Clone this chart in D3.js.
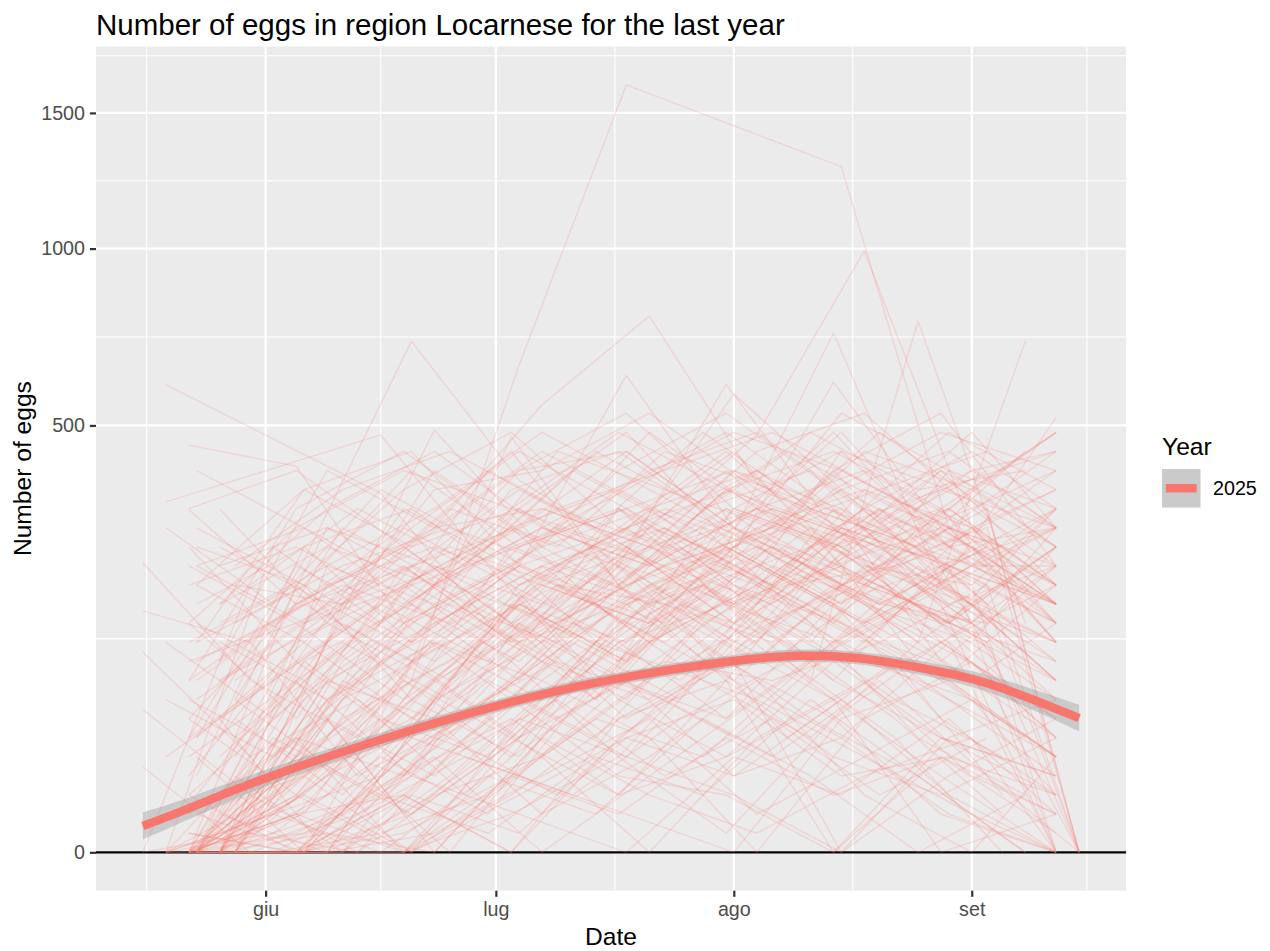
<!DOCTYPE html>
<html>
<head>
<meta charset="utf-8">
<script src="https://cdn.jsdelivr.net/npm/d3@7"></script>
<style>
  body { margin: 0; background: #ffffff; }
  svg { display: block; font-family: "Liberation Sans", Arial, sans-serif; }
</style>
</head>
<body>
<svg id="chart" width="1270" height="951"></svg>
<script>
// ---------------- DATA ----------------
const titleText = "Number of eggs in region Locarnese for the last year";
const xTitle = "Date";
const yTitle = "Number of eggs";
const legendTitle = "Year";
const legendLabels = ["2025"];

const monthTicks = ["2025-06-01", "2025-07-01", "2025-08-01", "2025-09-01"];
const monthLabels = ["giu", "lug", "ago", "set"];
const monthBounds = ["2025-05-01", "2025-10-01"];
const yTicks = [0, 500, 1000, 1500];
const yTickNext = 2000;

// trap groups: sampling dates and egg counts per trap (null = missing sample)
const datesG1 = ["2025-05-16","2025-05-30","2025-06-13","2025-06-27","2025-07-11","2025-07-25","2025-08-08","2025-08-22","2025-09-05"];
const valuesG1 = [
  [230,81,36,100,169,256,144,64,25],
  [160,121,16,49,144,81,196,225,100],
  [110,25,64,9,81,169,121,49,4],
  [56,9,0,36,121,64,256,144,81],
  [20,0,4,25,9,49,100,36,0],
  [0,1,0,16,64,144,36,100,9],
  [0,196,324,225,400,289,441,324,256]
];
const datesG2 = ["2025-05-19","2025-06-02","2025-06-16","2025-06-30","2025-07-14","2025-07-28","2025-08-11","2025-08-25","2025-09-08"];
const valuesG2 = [
  [600,null,354,144,64,196,100,225,121],
  [337,null,478,225,81,169,289,100,36],
  [0,9,49,25,121,196,81,774,144],
  [0,4,16,81,36,144,225,121,717],
  [64,25,100,169,64,289,144,36,9],
  [0,0,1,9,49,25,100,169,64],
  [25,81,169,100,256,121,49,16,0],
  [0,36,9,64,144,324,400,196,100],
  [121,49,144,256,169,81,36,121,225],
  [0,1,25,4,81,196,121,289,49],
  [0,0,9,1,25,9,64,16,0],
  [0,4,0,16,4,49,16,0,9],
  [289,169,361,256,441,324,484,361,400],
  [0,256,144,400,289,484,324,256,441]
];
const datesG3 = ["2025-05-22","2025-06-05","2025-06-19","2025-07-03","2025-07-17","2025-07-31","2025-08-14","2025-08-28","2025-09-12"];
const valuesG3 = [
  [455,409,144,225,100,196,81,36,16],
  [0,9,81,474,196,100,256,144,64],
  [4,36,16,100,225,601,289,121,49],
  [0,0,9,64,169,256,740,196,100],
  [81,169,256,144,324,225,606,289,169],
  [0,4,0,25,81,49,121,196,519],
  [36,100,196,289,144,256,169,100,225],
  [0,25,81,36,121,196,361,225,144],
  [144,49,225,121,256,169,225,400,196],
  [1,0,36,100,25,121,64,16,0],
  [0,100,36,169,289,225,144,81,196],
  [225,144,64,256,196,361,256,144,81],
  [0,0,0,9,49,100,196,121,49],
  [49,169,289,196,121,169,81,225,324],
  [9,64,144,64,196,81,256,324,144],
  [0,16,36,169,100,256,169,49,9],
  [121,196,81,25,144,225,400,196,121],
  [0,81,169,256,324,169,121,225,289],
  [49,9,100,196,64,144,289,169,0],
  [0,0,25,81,225,144,64,121,225],
  [196,256,169,324,256,400,225,289,169],
  [0,36,0,16,64,25,100,36,9],
  [100,144,225,121,196,324,196,144,256],
  [0,4,64,144,81,225,144,324,121],
  [16,121,196,289,225,121,324,100,36],
  [0,0,9,0,36,100,49,121,196],
  [64,25,144,225,361,256,169,225,100],
  [322,169,256,144,225,324,256,361,289],
  [0,1,16,49,9,81,0,25,4],
  [25,81,4,36,121,49,169,81,25],
  [0,0,1,16,4,36,9,25,1],
  [0,9,0,4,25,1,49,4,0],
  [1,0,25,64,16,9,0,36,16],
  [0,4,9,0,49,81,25,9,36],
  [9,0,0,36,9,25,64,0,4],
  [144,289,400,324,484,361,441,324,484],
  [0,196,361,484,289,441,256,400,289],
  [256,100,324,225,400,529,361,484,400],
  [36,225,144,361,441,289,484,256,361],
  [0,25,196,100,324,196,400,529,225],
  [324,400,256,441,196,361,289,361,441],
  [81,324,441,289,361,484,324,196,324]
];
const datesG4 = ["2025-05-23","2025-06-06","2025-06-20","2025-07-04","2025-07-18","2025-08-01","2025-08-15","2025-08-29","2025-09-12"];
const valuesG4 = [
  [0,16,81,650,1616,null,1290,289,121],
  [36,234,717,380,256,169,289,196,81],
  [0,64,144,225,624,289,196,256,144],
  [225,144,196,121,169,256,324,169,225],
  [0,0,36,121,64,196,144,81,25],
  [100,169,100,256,324,225,361,256,169],
  [0,9,64,25,144,289,196,324,196],
  [169,256,324,196,256,144,225,121,36],
  [0,81,16,144,81,169,441,256,289],
  [25,0,100,196,289,361,256,169,121],
  [0,36,169,100,225,121,289,225,0],
  [121,196,64,169,100,256,169,400,256],
  [0,0,0,16,81,36,121,64,25],
  [196,121,256,324,196,289,225,144,324],
  [9,100,169,81,225,169,100,225,169],
  [0,16,49,169,121,256,361,196,81],
  [81,169,225,289,441,289,169,289,225],
  [0,4,100,36,169,81,196,144,256],
  [256,196,121,225,144,324,256,324,196],
  [0,49,121,225,169,225,144,64,16],
  [36,121,49,121,256,144,289,225,169],
  [0,0,16,64,25,121,196,289,144],
  [144,81,196,256,324,196,121,196,289],
  [0,25,100,169,100,324,256,144,100],
  [225,289,169,324,225,400,324,225,144],
  [0,9,0,49,144,81,36,121,0],
  [64,144,225,121,196,256,400,289,196],
  [0,100,36,196,289,169,225,144,256],
  [4,0,9,1,36,16,64,9,0],
  [0,25,81,144,49,100,0,36,64],
  [0,1,16,4,0,25,9,49,4],
  [0,0,4,36,81,16,36,4,0],
  [4,16,0,9,36,64,16,25,9],
  [0,0,36,16,4,0,49,81,25],
  [0,25,4,49,25,9,0,16,49],
  [196,361,256,400,529,324,441,361,256],
  [0,144,289,441,324,400,289,484,361],
  [289,196,400,256,361,484,400,289,441],
  [16,256,121,324,484,256,529,400,324],
  [121,361,441,225,289,441,225,324,484],
  [0,64,225,361,256,576,361,441,289],
  [400,289,196,400,441,289,484,256,400]
];
const datesG5 = ["2025-05-26","2025-06-09","2025-06-23","2025-07-07","2025-07-21","2025-08-04","2025-08-18","2025-09-01","2025-09-12"];
const valuesG5 = [
  [0,121,489,256,169,225,144,289,169],
  [16,196,289,549,789,374,256,169,121],
  [0,64,144,225,289,478,992,289,196],
  [81,144,81,196,256,196,324,225,289],
  [0,0,36,100,64,169,256,144,81],
  [169,256,196,289,225,324,196,361,256],
  [0,25,121,64,196,121,289,196,0],
  [49,121,225,144,289,400,289,225,169],
  [0,81,49,225,169,256,169,121,256],
  [121,64,169,100,196,289,361,289,144],
  [0,9,81,144,100,64,144,225,169],
  [225,289,225,169,324,256,196,144,289],
  [0,49,0,36,121,196,100,64,25],
  [25,100,196,289,225,324,256,324,225],
  [0,64,121,81,169,100,225,169,81],
  [144,225,169,256,324,196,324,256,196],
  [0,0,64,121,196,256,169,81,144],
  [81,169,100,196,144,225,289,400,289],
  [0,16,81,25,81,144,196,144,64],
  [256,169,289,324,256,324,225,196,324],
  [0,81,144,225,121,196,121,256,169],
  [49,0,64,169,256,169,361,256,121],
  [0,36,196,121,289,225,144,225,225],
  [100,196,256,196,144,289,196,289,169],
  [0,4,25,0,16,64,25,4,0],
  [9,49,16,81,36,0,49,100,36],
  [0,0,9,25,0,36,81,16,4],
  [4,0,1,16,49,4,25,64,9],
  [0,16,49,4,25,81,9,0,25],
  [0,1,0,36,9,1,16,36,0],
  [169,324,441,289,400,484,324,441,324],
  [0,225,324,484,361,256,441,361,484],
  [324,144,361,400,529,361,289,484,289],
  [36,289,196,324,256,441,529,324,400],
  [100,400,289,441,324,400,256,400,441],
  [0,121,400,256,484,324,400,289,361]
];
const datesG6 = ["2025-05-28","2025-06-11","2025-06-25","2025-07-09","2025-07-23","2025-08-06","2025-08-20","2025-09-03","2025-09-15"];
const valuesG6 = [
  [0,64,121,196,144,256,196,121,0],
  [25,144,81,169,289,196,324,225,null],
  [0,0,49,100,64,144,225,169,0],
  [144,225,289,225,324,256,169,256,null],
  [0,81,36,121,196,324,256,144,null],
  [64,16,121,225,169,121,225,289,0],
  [0,100,196,144,225,169,289,196,null],
  [196,169,225,324,256,324,256,225,null],
  [0,25,0,49,100,81,121,81,0],
  [81,169,256,196,121,225,169,256,null],
  [0,49,100,225,289,196,324,169,null],
  [36,121,64,144,225,289,225,324,0],
  [0,0,16,81,169,100,196,121,null],
  [121,196,144,289,225,289,361,256,null],
  [0,64,169,121,256,196,121,196,0],
  [49,9,81,196,169,256,169,144,null],
  [0,4,36,9,64,25,81,16,0],
  [16,0,25,64,16,49,9,36,null],
  [225,361,441,324,400,484,361,441,null],
  [64,289,196,441,361,289,484,324,0],
  [0,169,324,256,441,361,289,400,null]
];

// smoothed trend (fitted on sqrt scale) with confidence band, in eggs
const smoothDates = ["2025-05-16","2025-05-22","2025-06-01","2025-06-16","2025-07-01","2025-07-16","2025-08-01","2025-08-10","2025-08-17","2025-08-24","2025-09-01","2025-09-08","2025-09-15"];
const smoothFit   = [1.90, 5.29, 15.05, 34.81, 58.68, 81.54, 100.4, 106.09, 103.63, 95.26, 82.45, 66.42, 49.42];
const smoothLower = [0.449, 2.993, 11.83, 30.69, 53.73, 75.86, 94.09, 99.60, 97.02, 88.36, 75.0, 58.22, 40.07];
const smoothUpper = [4.368, 8.237, 18.66, 39.19, 63.84, 87.42, 106.92, 112.78, 110.46, 102.41, 90.25, 75.17, 59.75];

// ---------------- CHART ----------------
const panel = { left: 96, right: 1126, top: 46.5, bottom: 890.7 };
const lineColor = "#F8766D";
const svg = d3.select("#chart");
const parse = d3.utcParse("%Y-%m-%d");

const groups = [[datesG1, valuesG1], [datesG2, valuesG2], [datesG3, valuesG3],
                [datesG4, valuesG4], [datesG5, valuesG5], [datesG6, valuesG6]];
const series = [];
groups.forEach(([dates, vals]) => {
  vals.forEach(v => {
    series.push(v.map((val, i) => ({ date: parse(dates[i]), value: val }))
                 .filter(d => d.value !== null));
  });
});
const allPts = series.flat();

const [d0, d1] = d3.extent(allPts, d => d.date);
const span = d1 - d0;
const x = d3.scaleUtc()
  .domain([new Date(+d0 - 0.05 * span), new Date(+d1 + 0.05 * span)])
  .range([panel.left, panel.right]);

const sMax = Math.sqrt(d3.max(allPts, d => d.value));
const pad = 0.05 * sMax;
const y = d3.scaleSqrt()
  .domain([-(pad * pad), Math.pow(sMax + pad, 2)])
  .range([panel.bottom, panel.top]);

// panel background
svg.append("rect")
  .attr("x", panel.left).attr("y", panel.top)
  .attr("width", panel.right - panel.left).attr("height", panel.bottom - panel.top)
  .attr("fill", "#EBEBEB");

svg.append("clipPath").attr("id", "clip").append("rect")
  .attr("x", panel.left).attr("y", panel.top)
  .attr("width", panel.right - panel.left).attr("height", panel.bottom - panel.top);

const grid = svg.append("g");
const yMajExt = yTicks.concat([yTickNext]);
const yMinor = [];
for (let i = 0; i < yMajExt.length - 1; i++) {
  yMinor.push(Math.pow((Math.sqrt(yMajExt[i]) + Math.sqrt(yMajExt[i + 1])) / 2, 2));
}
const xMajExt = [monthBounds[0]].concat(monthTicks, [monthBounds[1]]).map(parse);
const xMinor = [];
for (let i = 0; i < xMajExt.length - 1; i++) {
  xMinor.push(new Date((+xMajExt[i] + +xMajExt[i + 1]) / 2));
}
grid.selectAll(".ymin").data(yMinor.filter(v => y(v) >= panel.top && y(v) <= panel.bottom)).join("line")
  .attr("x1", panel.left).attr("x2", panel.right)
  .attr("y1", d => y(d)).attr("y2", d => y(d))
  .attr("stroke", "#FFFFFF").attr("stroke-width", 1.1);
grid.selectAll(".xmin").data(xMinor.filter(v => x(v) >= panel.left && x(v) <= panel.right)).join("line")
  .attr("y1", panel.top).attr("y2", panel.bottom)
  .attr("x1", d => x(d)).attr("x2", d => x(d))
  .attr("stroke", "#FFFFFF").attr("stroke-width", 1.1);
grid.selectAll(".ymaj").data(yTicks).join("line")
  .attr("x1", panel.left).attr("x2", panel.right)
  .attr("y1", d => y(d)).attr("y2", d => y(d))
  .attr("stroke", "#FFFFFF").attr("stroke-width", 2.2);
grid.selectAll(".xmaj").data(monthTicks.map(parse)).join("line")
  .attr("y1", panel.top).attr("y2", panel.bottom)
  .attr("x1", d => x(d)).attr("x2", d => x(d))
  .attr("stroke", "#FFFFFF").attr("stroke-width", 2.2);

const plot = svg.append("g").attr("clip-path", "url(#clip)");

// zero reference line
plot.append("line")
  .attr("x1", panel.left).attr("x2", panel.right)
  .attr("y1", y(0)).attr("y2", y(0))
  .attr("stroke", "#000000").attr("stroke-width", 2.2);

// trap lines
const line = d3.line().x(d => x(d.date)).y(d => y(d.value));
plot.append("g").selectAll("path").data(series).join("path")
  .attr("d", line)
  .attr("fill", "none")
  .attr("stroke", lineColor)
  .attr("stroke-opacity", 0.2)
  .attr("stroke-width", 1.4)
  .attr("stroke-linejoin", "round");

// smooth band and line
const sm = smoothDates.map((d, i) => ({ date: parse(d), fit: smoothFit[i], lo: smoothLower[i], hi: smoothUpper[i] }));
plot.append("path")
  .datum(sm)
  .attr("d", d3.area().curve(d3.curveNatural)
    .x(d => x(d.date)).y0(d => y(d.lo)).y1(d => y(d.hi)))
  .attr("fill", "#999999").attr("fill-opacity", 0.4);
plot.append("path")
  .datum(sm)
  .attr("d", d3.line().curve(d3.curveNatural).x(d => x(d.date)).y(d => y(d.fit)))
  .attr("fill", "none").attr("stroke", lineColor).attr("stroke-width", 8.5);

// axes
const axisFont = 19.7;
const yAxis = svg.append("g").attr("transform", `translate(${panel.left},0)`)
  .call(d3.axisLeft(y).tickValues(yTicks).tickFormat(d3.format("d")).tickSize(6.1).tickPadding(4.9));
const xAxis = svg.append("g").attr("transform", `translate(0,${panel.bottom})`)
  .call(d3.axisBottom(x).tickValues(monthTicks.map(parse))
    .tickFormat((d, i) => monthLabels[i]).tickSize(6.1).tickPadding(4.9));
[xAxis, yAxis].forEach(a => {
  a.select(".domain").remove();
  a.selectAll(".tick line").attr("stroke", "#333333").attr("stroke-width", 2.2);
  a.selectAll(".tick text").attr("fill", "#4D4D4D")
    .style("font-size", axisFont + "px")
    .style("font-family", '"Liberation Sans", Arial, sans-serif');
});

// titles
svg.append("text")
  .attr("x", panel.left).attr("y", 35)
  .attr("font-size", 29.5).attr("fill", "#000000")
  .text(titleText);
svg.append("text")
  .attr("x", (panel.left + panel.right) / 2).attr("y", 945)
  .attr("text-anchor", "middle").attr("font-size", 24.6).attr("fill", "#000000")
  .text(xTitle);
svg.append("text")
  .attr("transform", `translate(30.5,${(panel.top + panel.bottom) / 2}) rotate(-90)`)
  .attr("text-anchor", "middle").attr("font-size", 24.6).attr("fill", "#000000")
  .text(yTitle);

// legend
const lg = svg.append("g").attr("transform", "translate(1162,0)");
lg.append("text").attr("x", 0).attr("y", 455)
  .attr("font-size", 24.6).attr("fill", "#000000").text(legendTitle);
legendLabels.forEach((lab, i) => {
  const top = 469 + i * 38.5;
  lg.append("rect").attr("x", 0).attr("y", top).attr("width", 38.5).attr("height", 38.5)
    .attr("fill", "#EBEBEB");
  lg.append("rect").attr("x", 0).attr("y", top).attr("width", 38.5).attr("height", 38.5)
    .attr("fill", "#999999").attr("fill-opacity", 0.4);
  lg.append("line").attr("x1", 3.8).attr("x2", 34.7)
    .attr("y1", top + 19.25).attr("y2", top + 19.25)
    .attr("stroke", lineColor).attr("stroke-width", 8.5);
  lg.append("text").attr("x", 51).attr("y", top + 26)
    .attr("font-size", axisFont).attr("fill", "#000000").text(lab);
});
</script>
</body>
</html>
